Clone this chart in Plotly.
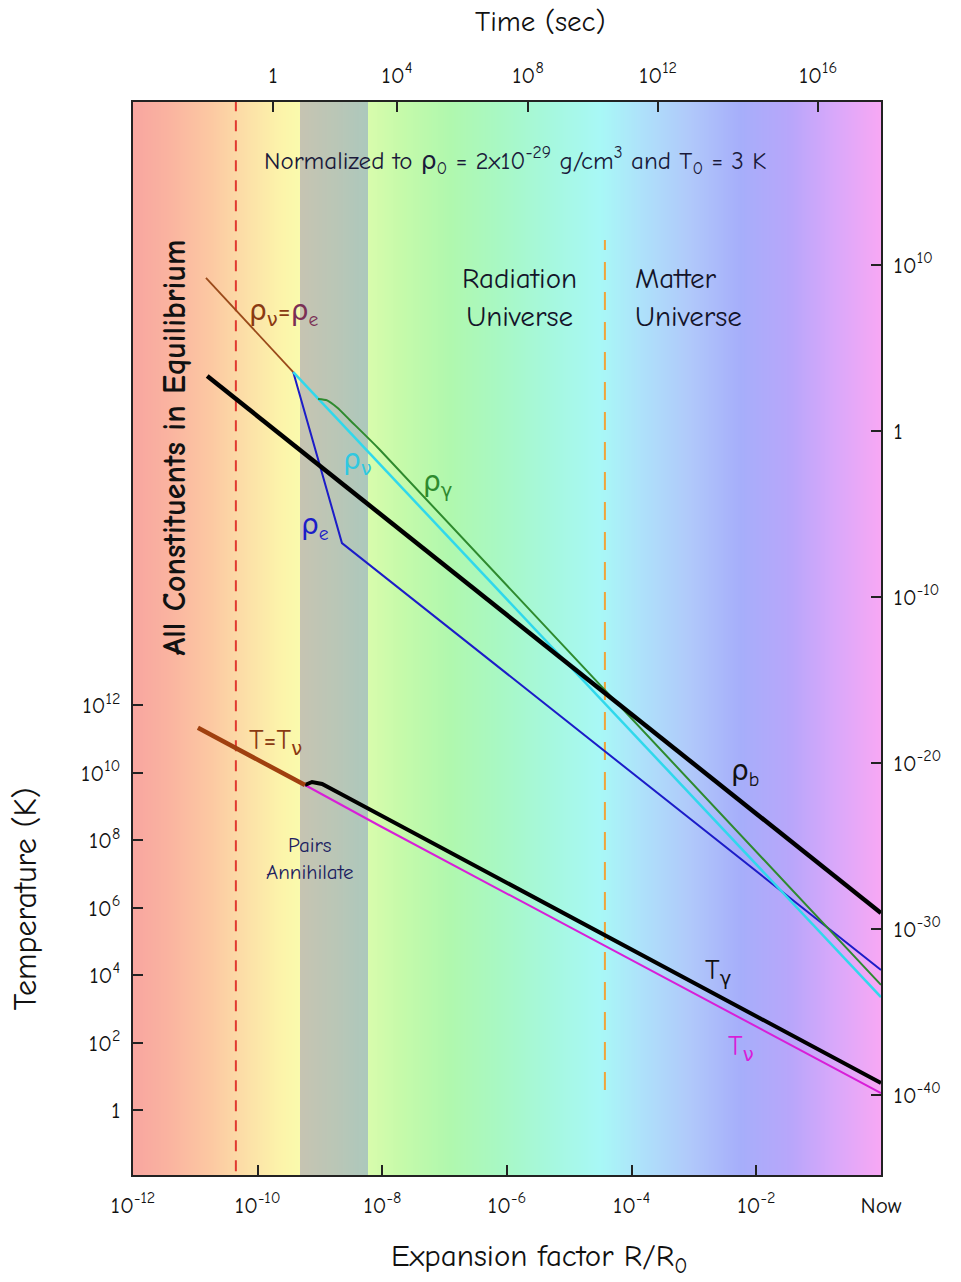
import plotly.graph_objects as go

FONT = "Comic Sans MS, Comic Neue, DejaVu Sans, sans-serif"

# ---------------- axis ticks ----------------
a_tickvals = [1e-12, 1e-10, 1e-8, 1e-6, 1e-4, 1e-2, 1.0]
a_ticktext = ["10<sup>-12</sup>", "10<sup>-10</sup>", "10<sup>-8</sup>", "10<sup>-6</sup>",
              "10<sup>-4</sup>", "10<sup>-2</sup>", "Now"]
time_tick_a = [1.76e-10, 1.72e-8, 2.17e-6, 2.65e-4, 9.8e-2]
time_ticktext = ["1", "10<sup>4</sup>", "10<sup>8</sup>", "10<sup>12</sup>", "10<sup>16</sup>"]
T_tickvals = [1, 1e2, 1e4, 1e6, 1e8, 1e10, 1e12]
T_ticktext = ["1", "10<sup>2</sup>", "10<sup>4</sup>", "10<sup>6</sup>", "10<sup>8</sup>",
              "10<sup>10</sup>", "10<sup>12</sup>"]
rho_tickvals = [1e10, 1, 1e-10, 1e-20, 1e-30, 1e-40]
rho_ticktext = ["10<sup>10</sup>", "1", "10<sup>-10</sup>", "10<sup>-20</sup>",
                "10<sup>-30</sup>", "10<sup>-40</sup>"]

# ---------------- densities (normalized) vs expansion factor ----------------
rho_eq_a = [1.48e-11, 3.72e-10]          # rho_nu = rho_e
rho_eq = [1.66e9, 3.55e3]
rho_b_a = [1.55e-11, 1.0]                # baryons
rho_b = [2.04e3, 9.1e-30]
rho_nu_a = [3.72e-10, 1.0]               # neutrinos
rho_nu = [3.55e3, 7.9e-35]
rho_e_a = [3.72e-10, 2.25e-9, 1.0]       # electrons
rho_e = [3.55e3, 1.78e-7, 3.4e-33]
rho_g_a = [9.29e-10, 1.3e-9, 1.9e-9, 3.0e-9, 9.18e-9, 1.0]   # photons
rho_g = [85.0, 70.0, 25.0, 4.6, 0.072, 4.3e-34]

# ---------------- temperatures vs expansion factor ----------------
T_eq_a = [1.10e-11, 5.74e-10]            # T = T_nu
T_eq = [2.14e11, 4.32e9]
T_g_a = [5.74e-10, 7.45e-10, 1.08e-9, 2.17e-9, 1.0]
T_g = [4.32e9, 5.3e9, 4.62e9, 2.34e9, 6.3]
T_nu_a = [5.74e-10, 9.18e-9, 1.0]
T_nu = [4.32e9, 2.63e8, 3.19]

# ---------------- epoch markers ----------------
equilibrium_end_a = 4.47e-11
matter_radiation_eq_a = 3.72e-5

# ---------------- background colour bands ----------------
bg_log_a = [-12.0, -11.41, -10.76, -10.12, -9.63, -9.337, -9.321, -8.76, -8.246, -8.23,
            -7.72, -6.91, -6.11, -5.31, -4.51, -3.87, -3.05, -2.26, -1.46, -0.72, 0.0]
bg_colors = ["rgb(248,166,160)", "rgb(250,180,160)", "rgb(252,200,162)", "rgb(252,226,168)",
             "rgb(252,244,170)", "rgb(250,250,172)", "rgb(198,196,178)", "rgb(186,198,182)",
             "rgb(172,200,188)", "rgb(216,252,172)", "rgb(198,250,170)", "rgb(176,248,174)",
             "rgb(168,248,196)", "rgb(166,248,222)", "rgb(168,248,246)", "rgb(174,226,250)",
             "rgb(176,200,250)", "rgb(166,174,250)", "rgb(184,166,250)", "rgb(218,168,250)",
             "rgb(248,168,244)"]

n = len(bg_log_a)
fig = go.Figure()

fig.add_trace(go.Heatmap(
    x=[10 ** v for v in bg_log_a], y=[1e-3, 1e31],
    z=[list(range(n)), list(range(n))],
    zmin=0, zmax=n - 1, zsmooth="best",
    colorscale=[[i / (n - 1), c] for i, c in enumerate(bg_colors)],
    showscale=False, hoverinfo="skip", xaxis="x", yaxis="y"))

# dashed epoch lines
fig.add_trace(go.Scatter(x=[equilibrium_end_a] * 2, y=[1e-3, 1e31], mode="lines",
                         line=dict(color="#e03a30", width=2, dash="11px,9px"),
                         hoverinfo="skip", xaxis="x", yaxis="y"))
fig.add_trace(go.Scatter(x=[matter_radiation_eq_a] * 2, y=[3.92, 6.2e25], mode="lines",
                         line=dict(color="#f0a438", width=2, dash="18px,12px"),
                         hoverinfo="skip", xaxis="x", yaxis="y"))

# temperatures (left axis)
fig.add_trace(go.Scatter(x=T_nu_a, y=T_nu, mode="lines",
                         line=dict(color="#d81ed8", width=2), xaxis="x", yaxis="y"))
fig.add_trace(go.Scatter(x=T_g_a, y=T_g, mode="lines",
                         line=dict(color="black", width=4), xaxis="x", yaxis="y"))
fig.add_trace(go.Scatter(x=T_eq_a, y=T_eq, mode="lines",
                         line=dict(color="#a0400f", width=4.5), xaxis="x", yaxis="y"))

# densities (right axis)
fig.add_trace(go.Scatter(x=rho_eq_a, y=rho_eq, mode="lines",
                         line=dict(color="#9a4a1a", width=1.8), xaxis="x2", yaxis="y2"))
fig.add_trace(go.Scatter(x=rho_e_a, y=rho_e, mode="lines",
                         line=dict(color="#1c1cc8", width=2), xaxis="x2", yaxis="y2"))
fig.add_trace(go.Scatter(x=rho_nu_a, y=rho_nu, mode="lines",
                         line=dict(color="#30d8ec", width=2.5), xaxis="x2", yaxis="y2"))
fig.add_trace(go.Scatter(x=rho_g_a, y=rho_g, mode="lines", line_shape="spline",
                         line=dict(color="#2e8a2e", width=2, smoothing=0.6), xaxis="x2", yaxis="y2"))
fig.add_trace(go.Scatter(x=rho_b_a, y=rho_b, mode="lines",
                         line=dict(color="black", width=4.5), xaxis="x2", yaxis="y2"))

axis_common = dict(type="log", showgrid=False, zeroline=False, showline=True,
                   linecolor="#222", linewidth=2, ticks="inside", ticklen=10,
                   tickwidth=1.5, tickcolor="#222",
                   tickfont=dict(family=FONT, size=23, color="#111"))

fig.update_layout(
    width=961, height=1282,
    margin=dict(l=133, r=80, t=102, b=107),
    paper_bgcolor="white", plot_bgcolor="white",
    showlegend=False,
    font=dict(family=FONT, color="#111"),
    xaxis=dict(range=[-12, 0], tickvals=a_tickvals, ticktext=a_ticktext,
               anchor="y", ticklabelstandoff=8, **axis_common),
    xaxis2=dict(range=[-12, 0], tickvals=time_tick_a, ticktext=time_ticktext,
                overlaying="x", side="top", anchor="y2", ticklabelstandoff=8, **axis_common),
    yaxis=dict(range=[-1.927, 29.885], tickvals=T_tickvals, ticktext=T_ticktext,
               anchor="x", side="left", ticklabelstandoff=6, **axis_common),
    yaxis2=dict(range=[-44.82, 19.82], tickvals=rho_tickvals, ticktext=rho_ticktext,
                overlaying="y", side="right", anchor="x2", ticklabelstandoff=6, **axis_common),
)

def ann(text, x, y, xref="paper", yref="paper", size=20, color="#111",
        xanchor="center", yanchor="middle", **kw):
    fig.add_annotation(text=text, x=x, y=y, xref=xref, yref=yref, showarrow=False,
                       xanchor=xanchor, yanchor=yanchor,
                       font=dict(family=FONT, size=size, color=color), **kw)

# titles
ann("Time (sec)", 0.544, 1.0746, size=29)
ann("Expansion factor R/R<sub>0</sub>", 0.544, -0.0774, size=31)
ann("Temperature (K)", -0.1444, 0.258, size=32, textangle=-90)
ann("Normalized to ρ<sub>0</sub> = 2x10<sup>-29</sup> g/cm<sup>3</sup> and T<sub>0</sub> = 3 K",
    0.511, 0.946, size=25, color="#1a1a3a")
ann("Radiation<br>Universe", 0.517, 0.818, size=29, color="#14142a")
ann("Matter<br>Universe", 0.668, 0.818, size=29, color="#14142a", xanchor="left", align="left")
ann("<b>All Constituents in Equilibrium</b>", 0.0561, 0.678, size=32, color="#111",
    textangle=-90)

# curve labels (log coordinates on log axes)
ann("<span style='color:#8a3a12'>ρ<sub>ν</sub>=</span><span style='color:#7a2f55'>ρ<sub>e</sub></span>",
    -9.593, 7.11, xref="x2", yref="y2", size=28)
ann("ρ<sub>ν</sub>", -8.406, -1.87, xref="x2", yref="y2", size=28, color="#30c8e0")
ann("ρ<sub>γ</sub>", -7.107, -3.19, xref="x2", yref="y2", size=28, color="#2e8a2e")
ann("ρ<sub>e</sub>", -9.08, -5.78, xref="x2", yref="y2", size=28, color="#1c1cc8")
ann("ρ<sub>b</sub>", -2.18, -20.6, xref="x2", yref="y2", size=28, color="#111")
ann("T=T<sub>ν</sub>", -9.706, 10.91, xref="x", yref="y", size=28, color="#8a3a12")
ann("Pairs<br>Annihilate", -9.16, 7.47, xref="x", yref="y", size=21, color="#1a2060")
ann("T<sub>γ</sub>", -2.614, 4.09, xref="x", yref="y", size=28, color="#111")
ann("T<sub>ν</sub>", -2.25, 1.84, xref="x", yref="y", size=28, color="#d81ed8")

fig.write_html("out.html")
